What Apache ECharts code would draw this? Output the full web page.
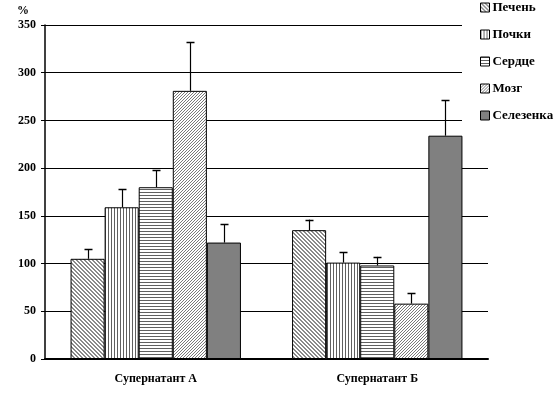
<!DOCTYPE html>
<html><head><meta charset="utf-8">
<script src="https://cdn.jsdelivr.net/npm/echarts@6/dist/echarts.min.js"></script>
<style>html,body{margin:0;padding:0;background:#fff}#c{width:560px;height:393px}</style>
</head><body><div id="c"></div>
<script>
const categories = ['Супернатант А', 'Супернатант Б'];
const seriesNames = ['Печень', 'Почки', 'Сердце', 'Мозг', 'Селезенка'];
const liver  = [105, 135];
const kidney = [159, 101];
const heart  = [180, 98];
const brain  = [281, 58];
const spleen = [122, 234];
const liverErr  = [115, 146];
const kidneyErr = [178, 112];
const heartErr  = [198, 107];
const brainErr  = [332, 69];
const spleenErr = [141, 271];
const yTicks = [0, 50, 100, 150, 200, 250, 300, 350];

const values = [liver, kidney, heart, brain, spleen];
const errs = [liverErr, kidneyErr, heartErr, brainErr, spleenErr];

function pattern(size, fn, fg) {
  const c = document.createElement('canvas');
  c.width = size; c.height = size;
  const g = c.getContext('2d');
  g.fillStyle = '#fff'; g.fillRect(0, 0, size, size);
  g.fillStyle = fg;
  for (let y = 0; y < size; y++) for (let x = 0; x < size; x++) if (fn(x, y, size)) g.fillRect(x, y, 1, 1);
  return { image: c, repeat: 'repeat' };
}
const fills = [
  pattern(4, (x, y, s) => x === y || (x === (y + 1) % s), '#8a8a8a'),
  pattern(3, (x, y) => x === 0, '#606060'),
  pattern(3, (x, y) => y === 0, '#606060'),
  pattern(3, (x, y, s) => (x + y) % s === 0, '#7a7a7a'),
  '#808080'
];

const FRAC = 34 / 221;
const font = '"Liberation Serif", "Times New Roman", serif';

const series = seriesNames.map((n, i) => ({
  name: n, type: 'bar', data: values[i], barWidth: (FRAC * 100) + '%', barGap: '0%',
  itemStyle: { color: fills[i], borderColor: '#000', borderWidth: 1 }, z: 2
}));
series.push({
  type: 'custom', name: 'err', z: 5, silent: true,
  data: (function () { const d = []; errs.forEach((e, i) => e.forEach((v, c) => d.push([c, values[i][c], v, i]))); return d; })(),
  renderItem: function (params, api) {
    const c = api.value(0), top = api.value(1), hi = api.value(2), i = api.value(3);
    const bw = api.size([1, 0])[0] * FRAC;
    const p0 = api.coord([c, top]), p1 = api.coord([c, hi]);
    const x = Math.round(p0[0] + (i - 2) * bw) + 0.5;
    return { type: 'group', children: [
      { type: 'line', shape: { x1: x, y1: p0[1], x2: x, y2: p1[1] }, style: { stroke: '#000', lineWidth: 1.2 } },
      { type: 'line', shape: { x1: x - 4, y1: Math.round(p1[1]) + 0.5, x2: x + 4, y2: Math.round(p1[1]) + 0.5 }, style: { stroke: '#000', lineWidth: 1.5 } }
    ]};
  }
});

const chart = echarts.init(document.getElementById('c'), null, { renderer: 'canvas' });
chart.setOption({
  animation: false,
  backgroundColor: '#fff',
  textStyle: { fontFamily: font },
  grid: { left: 45, right: 72, top: 25, bottom: 34 },
  legend: {
    orient: 'vertical', left: 462, top: 0, data: seriesNames,
    backgroundColor: '#fff', padding: [1, 5, 5, 18],
    itemWidth: 9, itemHeight: 9, itemGap: 14, icon: 'rect',
    itemStyle: { borderColor: '#000', borderWidth: 1 },
    textStyle: { fontFamily: font, fontWeight: 'bold', fontSize: 13, color: '#000', padding: [0, 0, 0, -2] }
  },
  xAxis: {
    type: 'category', data: categories,
    axisLine: { onZero: false, lineStyle: { color: '#000', width: 2 } },
    axisTick: { show: false },
    axisLabel: { margin: 14, color: '#000', fontFamily: font, fontWeight: 'bold', fontSize: 12 }
  },
  yAxis: {
    type: 'value', min: yTicks[0], max: yTicks[yTicks.length - 1], interval: 50,
    name: '%', nameLocation: 'end', nameGap: 8,
    nameTextStyle: { align: 'left', padding: [0, 0, 0, -28], color: '#000', fontFamily: font, fontWeight: 'bold', fontSize: 12 },
    axisLine: { show: true, lineStyle: { color: '#000', width: 1.5 } },
    axisTick: { show: true, inside: false, length: 4, lineStyle: { color: '#000' } },
    splitLine: { lineStyle: { color: '#000', width: 1 } },
    axisLabel: { margin: 9, color: '#000', fontFamily: font, fontWeight: 'bold', fontSize: 12 }
  },
  series: series
});
</script></body></html>
